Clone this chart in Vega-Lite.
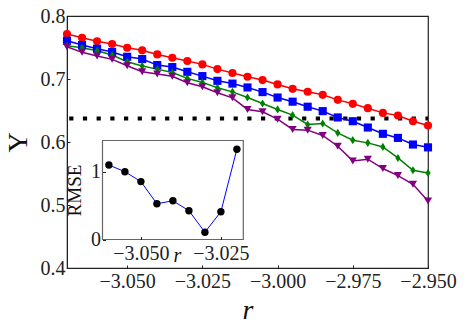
{
  "$schema": "https://vega.github.io/schema/vega-lite/v6.json",
  "width": 361,
  "height": 252,
  "autosize": {"type": "none"},
  "padding": {"left": 67, "top": 16, "right": 41, "bottom": 60},
  "background": "white",
  "config": {
    "font": "Liberation Serif",
    "view": {"stroke": "#222", "strokeWidth": 1.2},
    "axis": {"grid": false, "labelFont": "Liberation Serif", "titleFont": "Liberation Serif", "labelFontSize": 20, "labelColor": "#222", "titleColor": "#111", "titleFontWeight": "normal", "domainColor": "#222", "tickColor": "#222", "labelFlush": false, "labelOverlap": false}
  },
  "datasets": {
    "main": [
      {"s": "a", "r": -3.070, "v": 0.7715}, {"s": "a", "r": -3.065, "v": 0.7655}, {"s": "a", "r": -3.060, "v": 0.7600}, {"s": "a", "r": -3.055, "v": 0.7555}, {"s": "a", "r": -3.050, "v": 0.7496},
      {"s": "a", "r": -3.045, "v": 0.7455}, {"s": "a", "r": -3.040, "v": 0.7390}, {"s": "a", "r": -3.035, "v": 0.7337}, {"s": "a", "r": -3.030, "v": 0.7285}, {"s": "a", "r": -3.025, "v": 0.7232},
      {"s": "a", "r": -3.020, "v": 0.7157}, {"s": "a", "r": -3.015, "v": 0.7095}, {"s": "a", "r": -3.010, "v": 0.7035}, {"s": "a", "r": -3.005, "v": 0.6983}, {"s": "a", "r": -3.000, "v": 0.6914},
      {"s": "a", "r": -2.995, "v": 0.6844}, {"s": "a", "r": -2.990, "v": 0.6797}, {"s": "a", "r": -2.985, "v": 0.6749}, {"s": "a", "r": -2.980, "v": 0.6669}, {"s": "a", "r": -2.975, "v": 0.6606},
      {"s": "a", "r": -2.970, "v": 0.6537}, {"s": "a", "r": -2.965, "v": 0.6462}, {"s": "a", "r": -2.960, "v": 0.6421}, {"s": "a", "r": -2.955, "v": 0.6330}, {"s": "a", "r": -2.950, "v": 0.6262},
      {"s": "b", "r": -3.070, "v": 0.7607}, {"s": "b", "r": -3.065, "v": 0.7539}, {"s": "b", "r": -3.060, "v": 0.7480}, {"s": "b", "r": -3.055, "v": 0.7428}, {"s": "b", "r": -3.050, "v": 0.7353},
      {"s": "b", "r": -3.045, "v": 0.7316}, {"s": "b", "r": -3.040, "v": 0.7221}, {"s": "b", "r": -3.035, "v": 0.7189}, {"s": "b", "r": -3.030, "v": 0.7114}, {"s": "b", "r": -3.025, "v": 0.7046},
      {"s": "b", "r": -3.020, "v": 0.6971}, {"s": "b", "r": -3.015, "v": 0.6927}, {"s": "b", "r": -3.010, "v": 0.6866}, {"s": "b", "r": -3.005, "v": 0.6792}, {"s": "b", "r": -3.000, "v": 0.6706},
      {"s": "b", "r": -2.995, "v": 0.6640}, {"s": "b", "r": -2.990, "v": 0.6560}, {"s": "b", "r": -2.985, "v": 0.6490}, {"s": "b", "r": -2.980, "v": 0.6390}, {"s": "b", "r": -2.975, "v": 0.6330},
      {"s": "b", "r": -2.970, "v": 0.6230}, {"s": "b", "r": -2.965, "v": 0.6130}, {"s": "b", "r": -2.960, "v": 0.6065}, {"s": "b", "r": -2.955, "v": 0.5960}, {"s": "b", "r": -2.950, "v": 0.5915},
      {"s": "c", "r": -3.070, "v": 0.7528}, {"s": "c", "r": -3.065, "v": 0.7496}, {"s": "c", "r": -3.060, "v": 0.7448}, {"s": "c", "r": -3.055, "v": 0.7380}, {"s": "c", "r": -3.050, "v": 0.7273},
      {"s": "c", "r": -3.045, "v": 0.7205}, {"s": "c", "r": -3.040, "v": 0.7157}, {"s": "c", "r": -3.035, "v": 0.7102}, {"s": "c", "r": -3.030, "v": 0.7010}, {"s": "c", "r": -3.025, "v": 0.6946},
      {"s": "c", "r": -3.020, "v": 0.6860}, {"s": "c", "r": -3.015, "v": 0.6796}, {"s": "c", "r": -3.010, "v": 0.6707}, {"s": "c", "r": -3.005, "v": 0.6612}, {"s": "c", "r": -3.000, "v": 0.6517},
      {"s": "c", "r": -2.995, "v": 0.6426}, {"s": "c", "r": -2.990, "v": 0.6278}, {"s": "c", "r": -2.985, "v": 0.6294}, {"s": "c", "r": -2.980, "v": 0.6145}, {"s": "c", "r": -2.975, "v": 0.6029},
      {"s": "c", "r": -2.970, "v": 0.5986}, {"s": "c", "r": -2.965, "v": 0.5922}, {"s": "c", "r": -2.960, "v": 0.5747}, {"s": "c", "r": -2.955, "v": 0.5552}, {"s": "c", "r": -2.950, "v": 0.5509},
      {"s": "d", "r": -3.070, "v": 0.7512}, {"s": "d", "r": -3.065, "v": 0.7423}, {"s": "d", "r": -3.060, "v": 0.7364}, {"s": "d", "r": -3.055, "v": 0.7312}, {"s": "d", "r": -3.050, "v": 0.7210},
      {"s": "d", "r": -3.045, "v": 0.7114}, {"s": "d", "r": -3.040, "v": 0.7078}, {"s": "d", "r": -3.035, "v": 0.7043}, {"s": "d", "r": -3.030, "v": 0.6940}, {"s": "d", "r": -3.025, "v": 0.6876},
      {"s": "d", "r": -3.020, "v": 0.6781}, {"s": "d", "r": -3.015, "v": 0.6701}, {"s": "d", "r": -3.010, "v": 0.6517}, {"s": "d", "r": -3.005, "v": 0.6479}, {"s": "d", "r": -3.000, "v": 0.6362},
      {"s": "d", "r": -2.995, "v": 0.6199}, {"s": "d", "r": -2.990, "v": 0.6188}, {"s": "d", "r": -2.985, "v": 0.6103}, {"s": "d", "r": -2.980, "v": 0.5933}, {"s": "d", "r": -2.975, "v": 0.5700},
      {"s": "d", "r": -2.970, "v": 0.5727}, {"s": "d", "r": -2.965, "v": 0.5579}, {"s": "d", "r": -2.960, "v": 0.5467}, {"s": "d", "r": -2.955, "v": 0.5329}, {"s": "d", "r": -2.950, "v": 0.5064}
    ],
    "thr": [{"r": -3.07, "v": 0.6374}, {"r": -2.95, "v": 0.6374}],
    "rmse": [
      {"r": -3.060, "e": 1.098}, {"r": -3.055, "e": 1.0}, {"r": -3.050, "e": 0.854}, {"r": -3.045, "e": 0.527}, {"r": -3.040, "e": 0.571},
      {"r": -3.035, "e": 0.425}, {"r": -3.030, "e": 0.107}, {"r": -3.025, "e": 0.41}, {"r": -3.020, "e": 1.332}
    ],
    "one": [{}]
  },
  "layer": [
    {
      "layer": [
        {
          "data": {"name": "thr"},
          "mark": {"type": "line", "color": "black", "strokeWidth": 4, "strokeDash": [4.2, 9.5], "strokeDashOffset": 11.5, "strokeCap": "butt"},
          "encoding": {
            "x": {"field": "r", "type": "quantitative", "scale": {"domain": [-3.07, -2.95], "nice": false, "zero": false},
              "axis": {"values": [-3.05, -3.025, -3.0, -2.975, -2.95], "format": ".3f", "title": "r", "titleFontStyle": "italic", "titleFontSize": 28, "titlePadding": 5, "tickSize": -3, "labelPadding": 6}},
            "y": {"field": "v", "type": "quantitative", "scale": {"domain": [0.4, 0.8], "nice": false, "zero": false},
              "axis": {"values": [0.4, 0.5, 0.6, 0.7, 0.8], "format": ".1f", "title": "Υ", "titleFontSize": 28, "titlePadding": 8, "tickSize": -3, "labelPadding": 5}}
          }
        },
        {
          "data": {"name": "main"},
          "mark": {"type": "line", "strokeWidth": 1.5},
          "encoding": {
            "x": {"field": "r", "type": "quantitative"},
            "y": {"field": "v", "type": "quantitative"},
            "color": {"field": "s", "type": "nominal", "scale": {"domain": ["a", "b", "c", "d"], "range": ["#ff0000", "#0000ff", "#008000", "#800080"]}, "legend": null}
          }
        },
        {
          "data": {"name": "main"},
          "mark": {"type": "point", "filled": true, "opacity": 1, "size": 66},
          "encoding": {
            "x": {"field": "r", "type": "quantitative"},
            "y": {"field": "v", "type": "quantitative"},
            "color": {"field": "s", "type": "nominal", "scale": {"domain": ["a", "b", "c", "d"], "range": ["#ff0000", "#0000ff", "#008000", "#800080"]}, "legend": null},
            "shape": {"field": "s", "type": "nominal", "scale": {"domain": ["a", "b", "c", "d"], "range": ["circle", "square", "M0,-1L0.64,0L0,1L-0.64,0Z", "triangle-down"]}, "legend": null}
          }
        }
      ]
    },
    {
      "layer": [
        {
          "data": {"name": "rmse"},
          "mark": {"type": "line", "color": "#0000ff", "strokeWidth": 1},
          "encoding": {
            "x": {"field": "r", "type": "quantitative", "scale": {"domain": [-3.062, -3.018], "range": [35.5, 176.3], "nice": false, "zero": false},
              "axis": {"orient": "bottom", "offset": -28.5, "values": [-3.05, -3.025], "format": ".3f", "title": "r", "titleFontStyle": "italic", "titleFontSize": 20, "titleY": 6, "titleX": 110, "titleBaseline": "top", "domain": false, "tickSize": -3, "labelPadding": 7, "zindex": 1}},
            "y": {"field": "e", "type": "quantitative", "scale": {"domain": [0, 1.46], "range": [223.5, 124.5], "nice": false, "zero": false},
              "axis": {"orient": "left", "offset": -35.5, "values": [0, 1], "format": "d", "title": "RMSE", "titleFontSize": 19, "titlePadding": 6, "domain": false, "tickSize": -3, "labelPadding": 5, "zindex": 1}}
          }
        },
        {
          "data": {"name": "rmse"},
          "mark": {"type": "point", "filled": true, "opacity": 1, "color": "black", "size": 55},
          "encoding": {
            "x": {"field": "r", "type": "quantitative"},
            "y": {"field": "e", "type": "quantitative"}
          }
        },
        {
          "data": {"name": "one"},
          "mark": {"type": "rect", "filled": false, "stroke": "#666", "strokeWidth": 1.2},
          "encoding": {
            "x": {"datum": -3.062, "type": "quantitative"},
            "x2": {"datum": -3.018},
            "y": {"datum": 0, "type": "quantitative"},
            "y2": {"datum": 1.46}
          }
        }
      ]
    }
  ],
  "resolve": {"scale": {"x": "independent", "y": "independent", "color": "independent", "shape": "independent"}}
}
